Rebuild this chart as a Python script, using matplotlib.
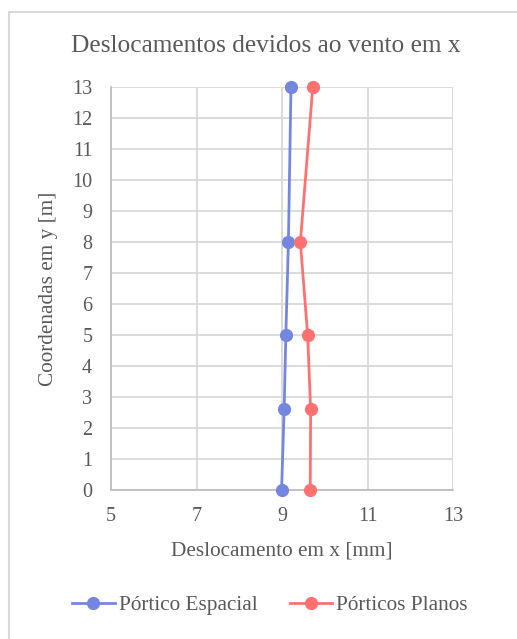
import matplotlib
matplotlib.use("Agg")
import matplotlib.pyplot as plt
from matplotlib.patches import Rectangle
from matplotlib.lines import Line2D

plt.rcParams['font.family'] = ['Liberation Serif', 'DejaVu Serif']

# Coordenadas (m) e deslocamentos (mm)
coord_y = [0, 2.6, 5, 8, 13]
espacial_x = [8.99, 9.05, 9.09, 9.15, 9.21]
planos_x = [9.66, 9.67, 9.60, 9.43, 9.72]

series_labels = ["Pórtico Espacial", "Pórticos Planos"]
series_colors = ["#7487E0", "#FF7171"]
x_ticks = [5, 7, 9, 11, 13]
y_ticks = list(range(0, 14))

txt = "#595959"
W, H = 517, 639
fig = plt.figure(figsize=(W / 100, H / 100), dpi=100)

# chart frame
fig.patches.append(Rectangle((8.5 / W, -0.1), 1.2, 1 - 12.5 / H + 0.1,
                             transform=fig.transFigure, fill=False,
                             edgecolor="#d9d9d9", linewidth=1.5))

ax = fig.add_axes([111 / W, 1 - 490 / H, (453 - 111) / W, (490 - 87) / H])
for xs, lab, col in zip([espacial_x, planos_x], series_labels, series_colors):
    ax.plot(xs, coord_y, color=col, linewidth=2.0, marker="o",
            markersize=8.5, label=lab, zorder=3, clip_on=False)

ax.set_xlim(5, 13)
ax.set_ylim(0, 13)
ax.set_xticks(x_ticks)
ax.set_yticks(y_ticks)
ax.grid(True, color="#d9d9d9", linewidth=1.3)
ax.set_axisbelow(True)
for s in ["top", "right"]:
    ax.spines[s].set_visible(False)
for s in ["left", "bottom"]:
    ax.spines[s].set_color("#bfbfbf")
    ax.spines[s].set_linewidth(1.3)
ax.tick_params(length=0, labelsize=14.5, colors=txt)
ax.tick_params(axis="y", pad=13.5)
ax.tick_params(axis="x", pad=12.5)

ax.set_xlabel("Deslocamento em x [mm]", fontsize=15.3, color=txt, labelpad=11)
ax.set_ylabel("Coordenadas em y [m]", fontsize=15.3, color=txt, labelpad=10)
fig.text(266 / W, 1 - 46.5 / H, "Deslocamentos devidos ao vento em x",
         ha="center", va="center", fontsize=18.3, color=txt)

handles = [Line2D([], [], color=c, linewidth=2.0, marker="o", markersize=8.5)
           for c in series_colors]
fig.legend(handles, series_labels, loc="center", bbox_to_anchor=(270 / W, 1 - 605 / H),
           ncol=2, frameon=False, fontsize=15.3, labelcolor=txt,
           handlelength=2.0, handletextpad=0.2, columnspacing=1.5)

fig.savefig("out.png", dpi=100)
